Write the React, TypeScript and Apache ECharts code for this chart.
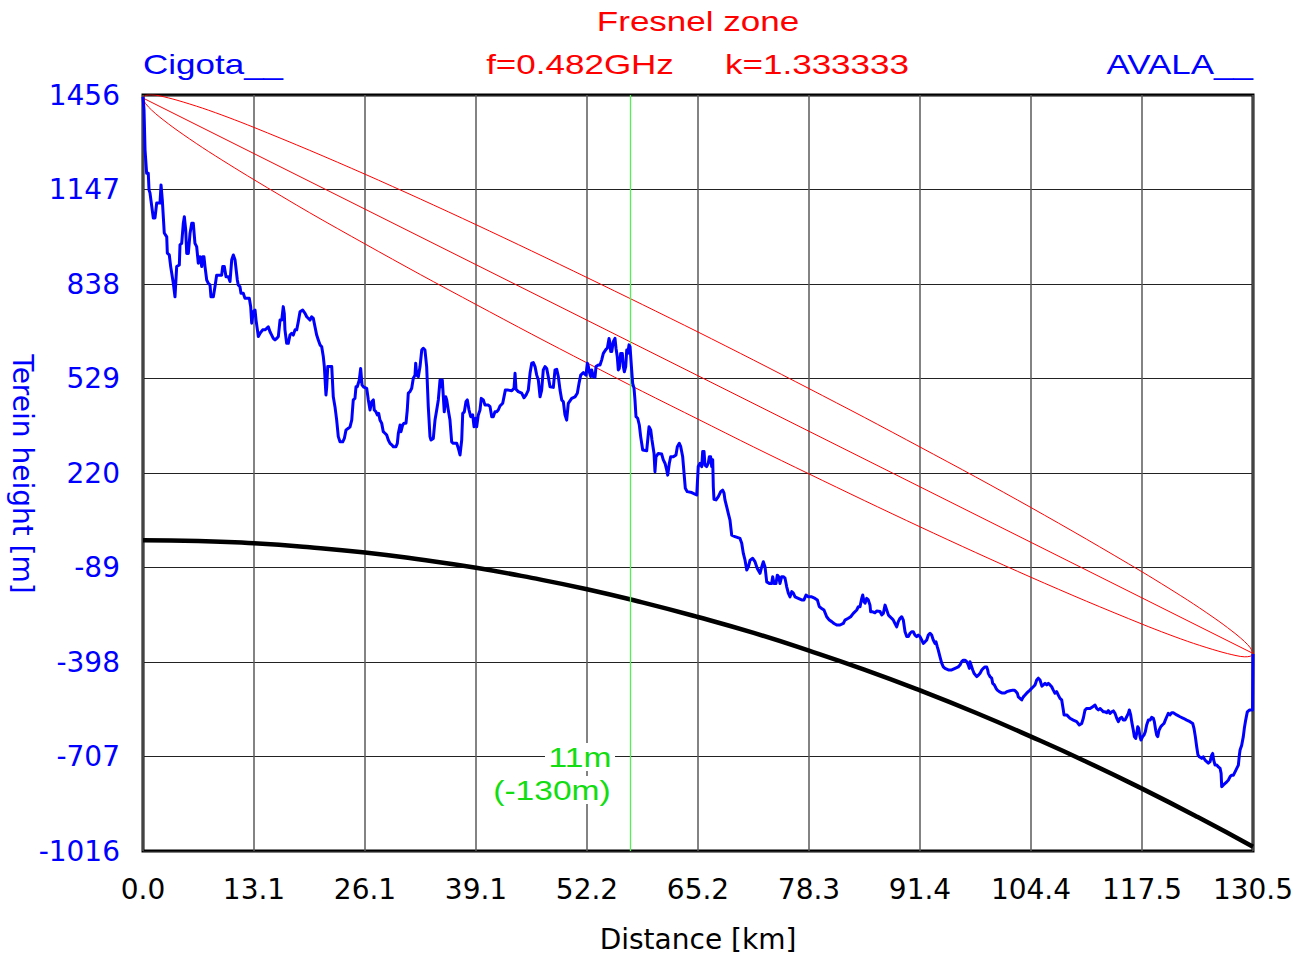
import React, { useEffect, useRef } from "react";
import * as echarts from "echarts";

// ---- axes ----
const X_MIN = 0;
const X_MAX = 130.5;
const X_STEP = 13.05;
const xTickLabels = ["0.0", "13.1", "26.1", "39.1", "52.2", "65.2", "78.3", "91.4", "104.4", "117.5", "130.5"];
const Y_MIN = -1016;
const Y_MAX = 1456;
const Y_STEP = 309;
const yTickLabels = ["-1016", "-707", "-398", "-89", "220", "529", "838", "1147", "1456"];
const yAxisTitle = "Terein height [m]";
const xAxisTitle = "Distance [km]";

// ---- terrain profile (distance km, height m) ----
const terrainKm = [
  0.0, 0.12, 0.24, 0.43, 0.62, 0.71, 0.82, 1.21, 1.41, 1.61, 2.0, 2.12, 2.27, 2.5, 2.79, 2.86, 3.09, 3.26, 3.56, 3.76,
  3.96, 4.27, 4.35, 4.55, 4.74, 4.86, 5.02, 5.14, 5.33, 5.53, 5.73, 5.91, 6.11, 6.31, 6.5, 6.7, 6.9, 7.02, 7.17, 7.29,
  7.49, 7.68, 7.88, 7.99, 8.27, 8.46, 8.66, 8.97, 9.25, 9.37, 9.56, 9.76, 10.03, 10.23, 10.43, 10.62, 10.82, 11.09, 11.2, 11.4,
  11.52, 11.79, 11.99, 12.5, 12.66, 12.78, 12.97, 13.17, 13.29, 13.56, 13.76, 14.07, 14.34, 14.54, 14.73, 14.93, 15.13, 15.32, 15.52, 15.72,
  15.91, 16.11, 16.31, 16.49, 16.61, 16.69, 16.89, 17.08, 17.28, 17.48, 17.67, 17.87, 18.07, 18.26, 18.46, 18.78, 19.05, 19.25, 19.43, 19.63,
  19.83, 20.02, 20.22, 20.42, 20.61, 20.81, 21.01, 21.2, 21.32, 21.51, 21.6, 21.72, 22.19, 22.37, 22.57, 22.77, 22.96, 23.16, 23.48, 23.67,
  23.87, 24.14, 24.34, 24.54, 24.72, 24.92, 25.04, 25.19, 25.43, 25.59, 25.75, 25.9, 26.3, 26.49, 26.69, 26.89, 27.08, 27.19, 27.39, 27.55,
  27.71, 27.86, 28.06, 28.25, 28.45, 28.65, 28.84, 29.04, 29.24, 29.43, 29.74, 29.9, 30.02, 30.22, 30.33, 30.53, 30.69, 30.92, 31.07, 31.19,
  31.39, 31.59, 31.78, 31.98, 32.06, 32.18, 32.37, 32.57, 32.77, 32.95, 33.15, 33.35, 33.54, 33.74, 33.86, 34.13, 34.33, 34.53, 34.72, 34.92,
  35.04, 35.19, 35.31, 35.42, 35.59, 35.71, 35.89, 36.09, 36.29, 36.48, 36.88, 37.07, 37.27, 37.47, 37.59, 37.78, 37.97, 38.13, 38.33, 38.53,
  38.76, 38.92, 39.12, 39.23, 39.42, 39.62, 39.77, 40.01, 40.21, 40.6, 40.8, 41.0, 41.18, 41.38, 41.58, 41.77, 41.97, 42.29, 42.44, 42.6,
  42.95, 43.35, 43.62, 43.74, 43.85, 44.12, 44.52, 44.79, 45.03, 45.3, 45.5, 45.7, 45.89, 46.09, 46.29, 46.48, 46.68, 46.87, 47.06, 47.26,
  47.46, 47.65, 47.85, 48.24, 48.44, 48.64, 48.83, 49.03, 49.23, 49.42, 49.61, 49.81, 50.0, 50.4, 50.79, 51.06, 51.26, 51.46, 51.77, 52.08,
  52.24, 52.35, 52.47, 52.64, 52.75, 52.94, 53.14, 53.26, 53.53, 53.73, 53.93, 54.12, 54.43, 54.59, 54.79, 54.9, 54.99, 55.11, 55.29, 55.49,
  55.61, 55.76, 55.88, 56.0, 56.16, 56.35, 56.47, 56.59, 56.75, 56.87, 56.99, 57.14, 57.26, 57.45, 57.57, 57.73, 57.84, 57.96, 58.16, 58.35,
  58.51, 58.75, 59.22, 59.34, 59.49, 59.69, 59.84, 60.08, 60.19, 60.31, 60.58, 60.98, 61.17, 61.37, 61.57, 61.69, 61.88, 62.04, 62.35, 62.66,
  62.82, 63.05, 63.22, 63.45, 63.61, 63.76, 63.99, 64.51, 65.1, 65.17, 65.28, 65.49, 65.69, 65.8, 65.96, 66.07, 66.27, 66.46, 66.58, 66.74,
  66.86, 66.98, 67.05, 67.13, 67.37, 67.64, 67.92, 68.15, 68.31, 68.42, 68.62, 68.81, 69.01, 69.21, 69.6, 70.19, 70.39, 70.58, 70.78, 70.98,
  71.17, 71.37, 71.68, 71.95, 72.22, 72.54, 72.74, 72.93, 73.13, 73.33, 73.63, 73.91, 74.03, 74.18, 74.42, 74.57, 74.74, 74.89, 75.09, 75.28,
  75.48, 75.68, 75.87, 76.07, 76.27, 76.46, 76.66, 77.04, 77.44, 77.71, 77.95, 78.22, 78.62, 79.01, 79.28, 79.51, 79.79, 80.06, 80.38, 80.69,
  80.97, 81.24, 81.56, 81.95, 82.33, 82.53, 82.92, 83.2, 83.51, 83.91, 84.1, 84.3, 84.5, 84.62, 84.77, 84.89, 85.08, 85.27, 85.47, 85.55,
  85.79, 86.06, 86.26, 86.65, 86.85, 87.04, 87.24, 87.44, 87.63, 87.82, 88.02, 88.21, 88.41, 88.61, 88.8, 89.0, 89.2, 89.39, 89.59, 89.79,
  89.98, 90.18, 90.37, 90.56, 90.76, 90.96, 91.15, 91.35, 91.55, 91.74, 91.94, 92.14, 92.33, 92.53, 92.72, 92.91, 93.11, 93.23, 93.38, 93.5,
  93.7, 93.9, 94.09, 94.29, 94.68, 95.08, 95.47, 95.85, 96.05, 96.25, 96.44, 96.64, 96.84, 97.03, 97.15, 97.23, 97.43, 97.55, 97.7, 98.02,
  98.21, 98.41, 98.61, 98.79, 98.99, 99.19, 99.31, 99.38, 99.58, 99.78, 99.9, 100.09, 100.29, 100.44, 100.67, 100.96, 101.35, 101.55, 101.93, 102.25,
  102.44, 102.64, 102.79, 102.91, 103.11, 103.31, 103.5, 103.7, 103.89, 104.08, 104.28, 104.48, 104.67, 104.87, 105.07, 105.26, 105.46, 105.58, 105.69, 105.85,
  106.05, 106.25, 106.44, 106.64, 106.83, 107.02, 107.22, 107.42, 107.61, 107.81, 108.01, 108.2, 108.28, 108.6, 108.98, 109.37, 109.77, 110.08, 110.36, 110.55,
  110.75, 110.95, 111.34, 111.66, 111.93, 112.13, 112.32, 112.51, 112.71, 112.9, 113.1, 113.3, 113.49, 113.69, 113.89, 114.08, 114.28, 114.48, 114.67, 114.87,
  115.06, 115.25, 115.45, 115.65, 115.84, 115.96, 116.12, 116.24, 116.43, 116.55, 116.71, 116.83, 116.95, 117.06, 117.22, 117.33, 117.53, 117.69, 117.84, 118.0,
  118.19, 118.39, 118.59, 118.78, 118.9, 119.06, 119.18, 119.3, 119.45, 119.65, 119.84, 120.04, 120.19, 120.36, 120.54, 120.74, 120.94, 121.13, 121.53, 121.92,
  122.31, 122.71, 123.09, 123.41, 123.56, 123.72, 123.88, 124.03, 124.19, 124.47, 124.66, 124.86, 125.06, 125.25, 125.45, 125.65, 125.76, 125.88, 126.04, 126.24,
  126.43, 126.63, 126.75, 126.82, 127.02, 127.22, 127.42, 127.61, 127.81, 128.0, 128.2, 128.39, 128.59, 128.78, 128.9, 128.98, 129.17, 129.36, 129.48, 129.64,
  129.83, 130.07, 130.23, 130.45, 130.5,
];
const terrainM = [
  1450, 1407, 1276, 1200, 1200, 1145, 1136, 1054, 1054, 1103, 1103, 1162, 1113, 1005, 992, 939, 933, 894, 841, 796,
  895, 900, 966, 971, 1037, 1058, 1015, 938, 938, 1004, 1037, 1037, 971, 960, 906, 927, 895, 927, 927, 895,
  851, 840, 835, 796, 796, 829, 867, 867, 867, 895, 895, 862, 862, 846, 917, 933, 917, 851, 835, 829,
  808, 808, 791, 791, 764, 710, 747, 753, 720, 666, 677, 688, 688, 693, 698, 682, 671, 660, 655, 660,
  666, 720, 720, 764, 742, 688, 644, 644, 671, 677, 671, 688, 688, 715, 747, 753, 742, 731, 726, 720,
  731, 726, 698, 671, 655, 639, 633, 600, 568, 475, 502, 568, 568, 469, 437, 393, 339, 322, 322, 333,
  361, 366, 371, 393, 459, 464, 502, 502, 524, 562, 508, 502, 497, 459, 426, 453, 459, 426, 420, 410,
  415, 393, 383, 355, 350, 344, 328, 317, 312, 306, 306, 317, 350, 377, 355, 377, 383, 383, 426, 481,
  486, 497, 530, 540, 579, 540, 535, 568, 622, 628, 622, 568, 437, 339, 328, 333, 393, 426, 459, 524,
  502, 524, 469, 420, 469, 459, 426, 393, 322, 317, 317, 301, 279, 328, 415, 420, 453, 459, 426, 404,
  410, 371, 399, 371, 410, 426, 464, 459, 442, 442, 437, 404, 404, 420, 420, 426, 439, 448, 469, 491,
  491, 489, 497, 546, 494, 486, 481, 466, 475, 491, 546, 579, 581, 568, 540, 524, 469, 491, 557, 568,
  562, 535, 502, 500, 557, 559, 535, 491, 459, 453, 410, 393, 448, 464, 469, 481, 513, 540, 548, 540,
  579, 570, 551, 535, 557, 535, 533, 568, 573, 573, 590, 611, 624, 628, 660, 644, 617, 617, 649, 660,
  628, 600, 557, 562, 611, 611, 568, 551, 568, 622, 611, 639, 633, 557, 513, 497, 459, 404, 399, 377,
  339, 295, 293, 328, 371, 361, 328, 284, 224, 273, 284, 282, 263, 252, 230, 213, 252, 273, 273, 279,
  306, 317, 306, 273, 219, 170, 159, 156, 148, 148, 241, 252, 241, 290, 290, 246, 241, 252, 273, 273,
  241, 263, 175, 134, 132, 143, 159, 164, 154, 132, 110, 88, 66, 17, 12, 6, -10, -43, -65, -97,
  -87, -65, -59, -70, -92, -108, -87, -70, -87, -136, -141, -141, -119, -141, -141, -114, -119, -141, -119, -119,
  -124, -152, -173, -185, -168, -173, -185, -190, -195, -195, -179, -185, -185, -190, -195, -217, -223, -228, -250, -261,
  -266, -272, -277, -277, -272, -261, -255, -250, -239, -228, -217, -217, -190, -179, -201, -206, -190, -195, -212, -234,
  -234, -237, -231, -233, -244, -239, -212, -228, -244, -250, -255, -261, -272, -283, -266, -255, -250, -261, -299, -315,
  -315, -304, -299, -299, -310, -315, -310, -315, -326, -337, -332, -326, -310, -304, -310, -326, -337, -332, -348, -359,
  -381, -402, -414, -419, -424, -424, -419, -414, -408, -397, -392, -392, -397, -408, -419, -397, -414, -424, -435, -446,
  -441, -435, -424, -419, -414, -414, -424, -435, -446, -451, -468, -473, -484, -490, -495, -499, -499, -495, -492, -490,
  -490, -495, -500, -512, -517, -522, -512, -506, -500, -495, -490, -484, -479, -473, -457, -451, -457, -468, -477, -473,
  -468, -473, -468, -473, -479, -490, -500, -495, -506, -517, -522, -555, -571, -571, -582, -588, -593, -604, -599, -582,
  -555, -550, -550, -544, -539, -550, -555, -550, -555, -561, -561, -564, -557, -566, -561, -558, -566, -582, -593, -582,
  -579, -588, -588, -577, -566, -555, -571, -593, -621, -642, -648, -631, -610, -615, -642, -653, -642, -637, -626, -604,
  -588, -588, -579, -582, -593, -621, -637, -642, -621, -610, -604, -599, -588, -577, -566, -571, -564, -564, -571, -577,
  -582, -588, -593, -599, -615, -642, -675, -702, -708, -713, -708, -719, -724, -729, -724, -702, -697, -719, -735, -735,
  -741, -746, -762, -806, -800, -795, -790, -784, -773, -768, -768, -757, -746, -735, -702, -686, -670, -642, -615, -588,
  -561, -555, -555, -555, -372,
];

// ---- first Fresnel zone and line of sight ----
const fresnelKm = [0, 0.3, 1, 2, 4, 7, 10, 13.05, 19.6, 26.1, 32.6, 39.15, 45.7, 52.2, 58.7, 65.25, 71.8, 78.3, 84.8, 91.35, 97.9, 104.4, 110.9, 117.45, 120.5, 123.5, 126.5, 128.5, 129.5, 130.2, 130.5];
const fresnelUpper = [1446, 1455, 1457, 1453, 1439, 1413, 1383, 1350, 1275, 1197, 1116, 1032, 946, 859, 771, 681, 589, 496, 402, 305, 207, 107, 4, -103, -155, -208, -265, -307, -331, -352, -370];
const fresnelLower = [1446, 1428, 1407, 1383, 1341, 1284, 1231, 1179, 1071, 969, 869, 771, 674, 580, 487, 396, 305, 217, 130, 44, -40, -121, -199, -274, -307, -337, -363, -377, -381, -379, -370];
const losKm = [0, 130.5];
const losM = [1446, -370];

// ---- earth bulge (k = 4/3) ----
const earthKm = [0, 6.5, 13.05, 19.6, 26.1, 32.6, 39.15, 45.7, 52.2, 58.7, 65.25, 71.8, 78.3, 84.8, 91.35, 97.9, 104.4, 110.9, 117.45, 124, 130.5];
const earthM = [0, -2, -10, -23, -40, -63, -90, -123, -160, -203, -251, -303, -361, -423, -491, -564, -642, -724, -812, -905, -1002];

// ---- marker ----
const markerKm = 57.26;
const markerLabel1 = "11m";
const markerLabel2 = "(-130m)";

const zip = (xs: number[], ys: number[]) => xs.map((x, i) => [x, ys[i]]);

const FONT = "Liberation Sans";
const AXIS_FONT = "DejaVu Sans";
const BLUE = "#0000ff";
const RED = "#ff0000";
const GREEN = "#11dd11";

export default function App() {
  const ref = useRef<HTMLDivElement>(null);
  useEffect(() => {
    if (!ref.current) return;
    const chart = echarts.init(ref.current, undefined, { renderer: "svg" });
    const titleText = (text: string, x: number, y: number, align: string, fill: string, sx = 1.25) => ({
      type: "text",
      x,
      y,
      scaleX: sx,
      style: { text, fill, font: `28px '${FONT}'`, align, verticalAlign: "middle" },
      z: 10,
    });
    chart.setOption({
      animation: false,
      backgroundColor: "#ffffff",
      grid: {
        left: 143,
        right: 60,
        top: 95,
        bottom: 111,
        show: true,
        borderColor: "#000",
        borderWidth: 3,
        backgroundColor: "transparent",
        containLabel: false,
        outerBoundsMode: "none",
      },
      xAxis: {
        type: "value",
        min: X_MIN,
        max: X_MAX,
        interval: X_STEP,
        name: xAxisTitle,
        nameLocation: "middle",
        nameGap: 74,
        nameTextStyle: { color: "#000", fontSize: 28, fontFamily: AXIS_FONT },
        axisLine: { show: false },
        axisTick: { show: false },
        axisLabel: {
          color: "#000",
          fontSize: 28,
          fontFamily: AXIS_FONT,
          margin: 24,
          showMinLabel: true,
          showMaxLabel: true,
          hideOverlap: false,
          formatter: (v: number) => xTickLabels[Math.round(v / X_STEP)] ?? "",
        },
        splitLine: { show: true, lineStyle: { color: "#5a5a5a", width: 1.5 } },
      },
      yAxis: {
        type: "value",
        min: Y_MIN,
        max: Y_MAX,
        interval: Y_STEP,
        axisLine: { show: false },
        axisTick: { show: false },
        axisLabel: {
          color: BLUE,
          fontSize: 28,
          fontFamily: AXIS_FONT,
          margin: 23,
          showMinLabel: true,
          showMaxLabel: true,
          formatter: (v: number) => yTickLabels[Math.round((v - Y_MIN) / Y_STEP)] ?? "",
        },
        splitLine: { show: true, lineStyle: { color: "#222", width: 1.2 } },
      },
      series: [
        {
          type: "line",
          name: "Fresnel upper",
          data: zip(fresnelKm, fresnelUpper),
          showSymbol: false,
          smooth: 0.3,
          lineStyle: { color: RED, width: 1 },
          z: 3,
          markLine: {
            silent: true,
            symbol: "none",
            label: { show: false },
            lineStyle: { color: "#55ee55", width: 1.3, type: "solid", opacity: 1 },
            emphasis: { disabled: true },
            data: [{ xAxis: markerKm }],
          },
        },
        {
          type: "line",
          name: "Line of sight",
          data: zip(losKm, losM),
          showSymbol: false,
          lineStyle: { color: RED, width: 1 },
          z: 3,
        },
        {
          type: "line",
          name: "Fresnel lower",
          data: zip(fresnelKm, fresnelLower),
          showSymbol: false,
          smooth: 0.3,
          lineStyle: { color: RED, width: 1 },
          z: 3,
        },
        {
          type: "line",
          name: "Earth bulge",
          data: zip(earthKm, earthM),
          showSymbol: false,
          smooth: true,
          lineStyle: { color: "#000", width: 4.5 },
          z: 4,
        },
        {
          type: "line",
          name: "Terrain",
          data: zip(terrainKm, terrainM),
          showSymbol: false,
          lineStyle: { color: BLUE, width: 3, join: "round" },
          z: 5,
        },
      ],
      graphic: [
        titleText("Fresnel zone", 698, 21, "center", RED),
        titleText("f=0.482GHz", 580, 64, "center", RED),
        titleText("k=1.333333", 817, 64, "center", RED),
        titleText("Cigota__", 143, 64, "left", BLUE),
        titleText("AVALA__", 1253, 64, "right", BLUE),
        {
          type: "text",
          x: 22,
          y: 474,
          rotation: -Math.PI / 2,
          style: { text: yAxisTitle, fill: BLUE, font: `28px '${AXIS_FONT}'`, align: "center", verticalAlign: "middle" },
          z: 10,
        },
        {
          type: "text",
          x: 580,
          y: 757,
          scaleX: 1.2,
          style: { text: markerLabel1, fill: GREEN, font: `28px '${FONT}'`, align: "center", verticalAlign: "middle", backgroundColor: "#fff", padding: [0, 3] },
          z: 10,
        },
        {
          type: "text",
          x: 552,
          y: 790,
          scaleX: 1.2,
          style: { text: markerLabel2, fill: GREEN, font: `28px '${FONT}'`, align: "center", verticalAlign: "middle", backgroundColor: "#fff", padding: [0, 2] },
          z: 10,
        },
      ],
    });
    return () => chart.dispose();
  }, []);
  return <div ref={ref} style={{ position: "absolute", left: 0, top: 0, width: 1313, height: 962, background: "#fff" }} />;
}
